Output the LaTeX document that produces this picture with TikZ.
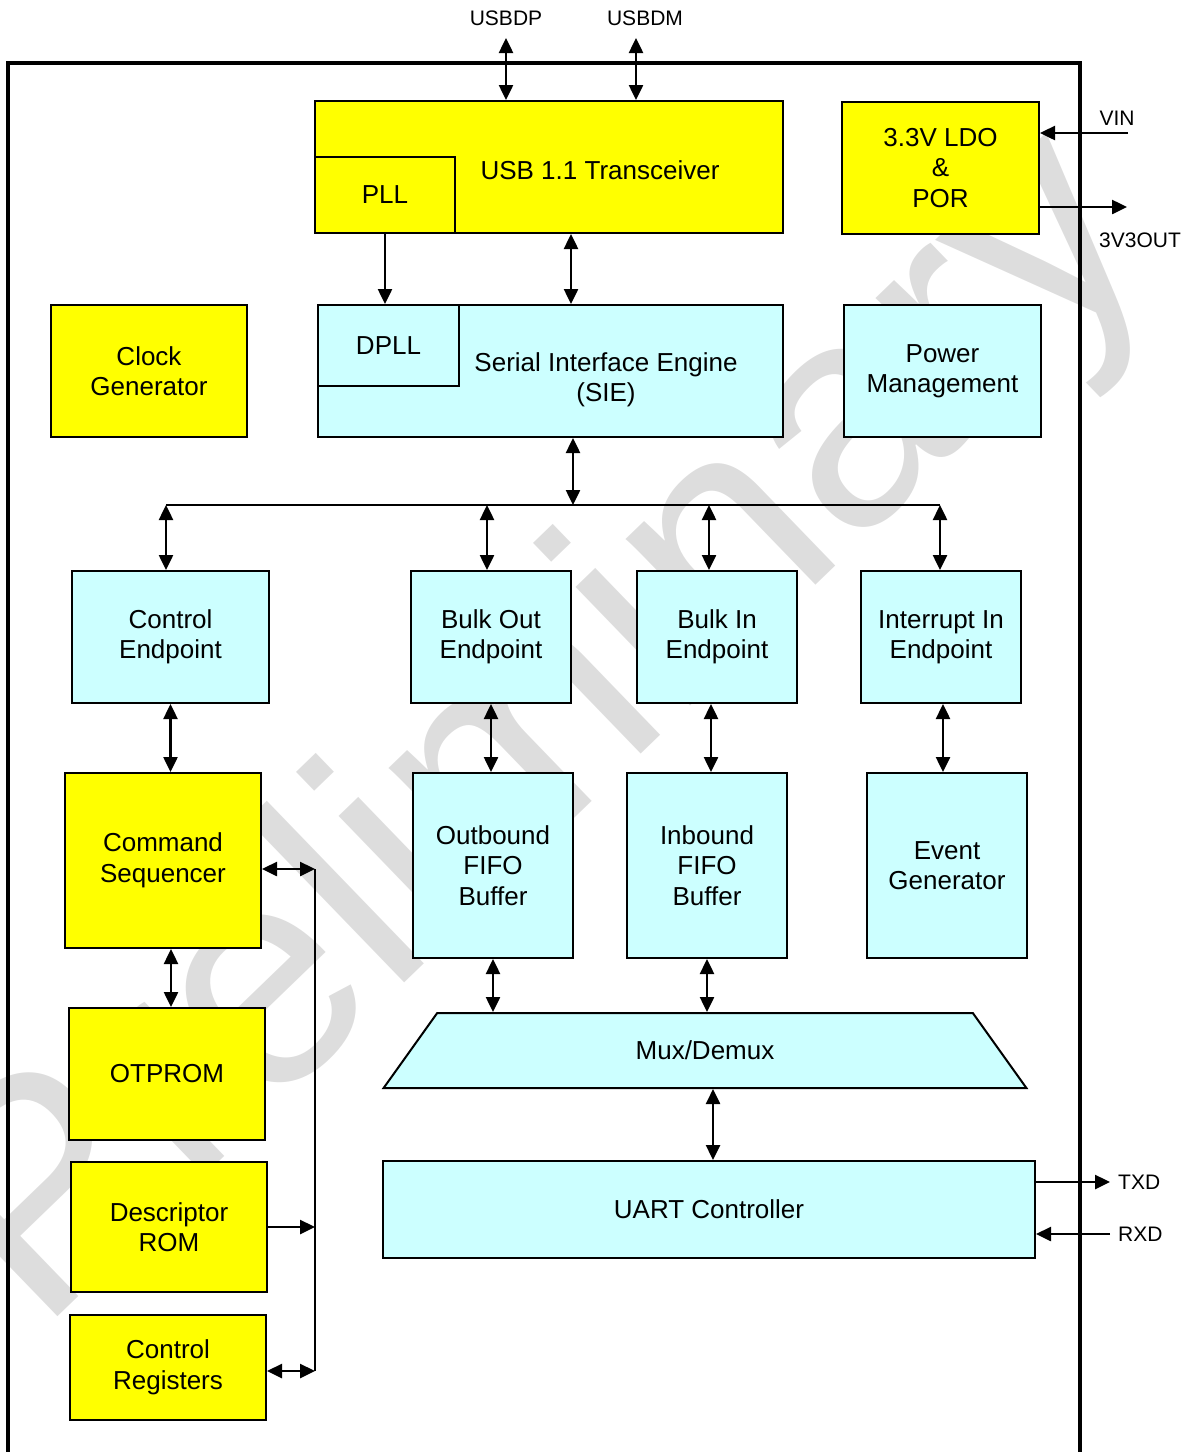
\documentclass[tikz,border=0pt]{standalone}
\usepackage{fontspec}
\setmainfont{Liberation Sans}
\usepackage{tikz}
\usetikzlibrary{positioning,arrows.meta,shapes.geometric}
\definecolor{blockyellow}{RGB}{255,255,0}
\definecolor{blockcyan}{RGB}{204,255,255}
\definecolor{markgray}{RGB}{221,221,221}
\tikzset{
    block/.style={rectangle, draw, line width=2pt, inner sep=0pt, align=center, font=\fontsize{26}{30.5}\selectfont},
    yellow block/.style={block, fill=blockyellow},
    cyan block/.style={block, fill=blockcyan},
    pin label/.style={inner sep=0pt, font=\fontsize{21}{24}\selectfont},
    link/.style={line width=2.5pt, -{Triangle[length=15pt,width=14pt]}},
    dual link/.style={line width=2.5pt, {Triangle[length=15pt,width=14pt]}-{Triangle[length=15pt,width=14pt]}},
    bus line/.style={line width=2pt},
    chip frame/.style={line width=3.5pt}
}

\begin{document}
\begin{tikzpicture}[x=1pt, y=-1pt]
    \useasboundingbox (0,0) rectangle (1193,1452);

    % Watermark behind everything
    \node[rotate=44, text=markgray, inner sep=0pt, font=\fontsize{312}{312}\selectfont] (mark) at (545,735) {Preliminary};

    % Chip outline (open at the bottom)
    \draw[chip frame] (8,1470) -- (8,63) -- (1080,63) -- (1080,1470);

    % Top row
    \node[yellow block, minimum width=468pt, minimum height=132pt,
          label={[block, draw=none, xshift=51pt, yshift=-3pt]center:USB 1.1 Transceiver}] (usb) at (549,167) {};
    \node[yellow block, minimum width=140pt, minimum height=76pt] (pll) at (385,195) {PLL};
    \node[yellow block, minimum width=197pt, minimum height=132pt] (ldo) at (940.5,168) {3.3V LDO\\\&\\POR};

    % Second row
    \node[yellow block, minimum width=196pt, minimum height=132pt] (clk) at (149,371) {Clock\\Generator};
    \node[cyan block, minimum width=465pt, minimum height=132pt,
          label={[block, draw=none, xshift=55.5pt, yshift=-9pt]center:Serial Interface Engine\\(SIE)}] (sie) at (550.5,371) {};
    \node[cyan block, minimum width=141pt, minimum height=81pt] (dpll) at (388.5,345.5) {DPLL};
    \node[cyan block, minimum width=197pt, minimum height=132pt] (pwr) at (942.5,371) {Power\\Management};

    % Endpoints
    \node[cyan block, minimum width=197pt, minimum height=132pt] (ctrlep) at (170.5,637) {Control\\Endpoint};
    \node[cyan block, minimum width=160pt, minimum height=132pt] (bulkout) at (491,637) {Bulk Out\\Endpoint};
    \node[cyan block, minimum width=160pt, minimum height=132pt] (bulkin) at (717,637) {Bulk In\\Endpoint};
    \node[cyan block, minimum width=160pt, minimum height=132pt] (intin) at (941,637) {Interrupt In\\Endpoint};

    % Buffers and sequencer
    \node[yellow block, minimum width=196pt, minimum height=175pt] (cmdseq) at (163,860.5) {Command\\Sequencer};
    \node[cyan block, minimum width=160pt, minimum height=185pt] (outfifo) at (493,865.5) {Outbound\\FIFO\\Buffer};
    \node[cyan block, minimum width=160pt, minimum height=185pt] (infifo) at (707,865.5) {Inbound\\FIFO\\Buffer};
    \node[cyan block, minimum width=160pt, minimum height=185pt] (evgen) at (947,865.5) {Event\\Generator};

    % Memories
    \node[yellow block, minimum width=196pt, minimum height=132pt] (otprom) at (167,1074) {OTPROM};
    \node[yellow block, minimum width=196pt, minimum height=130pt] (descrom) at (169,1227) {Descriptor\\ROM};
    \node[yellow block, minimum width=196pt, minimum height=105pt] (ctrlreg) at (168,1367.5) {Control\\Registers};

    % Mux and UART
    \node[cyan block, trapezium, trapezium stretches=true, trapezium angle=54,
          minimum width=644pt, minimum height=75pt] (mux) at (705,1050.5) {Mux/Demux};
    \node[cyan block, minimum width=652pt, minimum height=97pt] (uart) at (709,1209.5) {UART Controller};

    % Pins
    \node[pin label] (usbdp) at (506,18) {USBDP};
    \node[pin label] (usbdm) at (645,18) {USBDM};
    \coordinate (dp) at (506,38);
    \coordinate (dm) at (636,38);
    \draw[dual link] (dp) -- (dp |- usb.north);
    \draw[dual link] (dm) -- (dm |- usb.north);

    \coordinate (vin) at (1128,133);
    \coordinate (vout) at (1127,207);
    \draw[link] (vin) -- (vin -| ldo.east);
    \draw[link] (vout -| ldo.east) -- (vout);
    \node[pin label] (vinl) at (1117,118) {VIN};
    \node[pin label] (voutl) at (1140,240) {3V3OUT};

    \coordinate (txd) at (1110,1182);
    \coordinate (rxd) at (1110,1234);
    \draw[link] (txd -| uart.east) -- (txd);
    \draw[link] (rxd) -- (rxd -| uart.east);
    \node[pin label, right=8pt of txd] (txdl) {TXD};
    \node[pin label, right=8pt of rxd] (rxdl) {RXD};

    % Internal connections
    \draw[link] (pll.south) -- (pll.south |- dpll.north);
    \draw[dual link] ([xshift=22pt]usb.south) -- ([xshift=22pt]usb.south |- sie.north);

    \coordinate (busL) at (166,505);
    \coordinate (busR) at (940,505);
    \draw[bus line] (busL) -- (busR);
    \draw[dual link] ([xshift=22.5pt]sie.south) -- ([xshift=22.5pt]sie.south |- busL);
    \foreach \ep/\dx in {ctrlep/-4.5, bulkout/-4, bulkin/-8, intin/-1}
        \draw[dual link] ([xshift=\dx pt]\ep.north |- busL) -- ([xshift=\dx pt]\ep.north);

    \draw[dual link] (ctrlep.south) -- (ctrlep.south |- cmdseq.north);
    \draw[dual link] (bulkout.south) -- (bulkout.south |- outfifo.north);
    \draw[dual link] ([xshift=-6pt]bulkin.south) -- ([xshift=-6pt]bulkin.south |- infifo.north);
    \draw[dual link] ([xshift=2pt]intin.south) -- ([xshift=2pt]intin.south |- evgen.north);

    \draw[dual link] ([xshift=8pt]cmdseq.south) -- ([xshift=8pt]cmdseq.south |- otprom.north);
    \draw[dual link] (outfifo.south) -- (outfifo.south |- mux.north);
    \draw[dual link] (infifo.south) -- (infifo.south |- mux.north);
    \draw[dual link] ([xshift=8pt]mux.south) -- ([xshift=8pt]mux.south |- uart.north);

    % Side bus for sequencer and memories
    \coordinate (sbT) at (315,869);
    \coordinate (sbB) at (315,1371);
    \draw[bus line] (sbT) -- (sbB);
    \draw[dual link] (cmdseq.east |- sbT) -- (sbT);
    \draw[link] (descrom.east) -- (descrom.east -| sbT);
    \draw[dual link] (ctrlreg.east |- sbB) -- (sbB);
\end{tikzpicture}
\end{document}
